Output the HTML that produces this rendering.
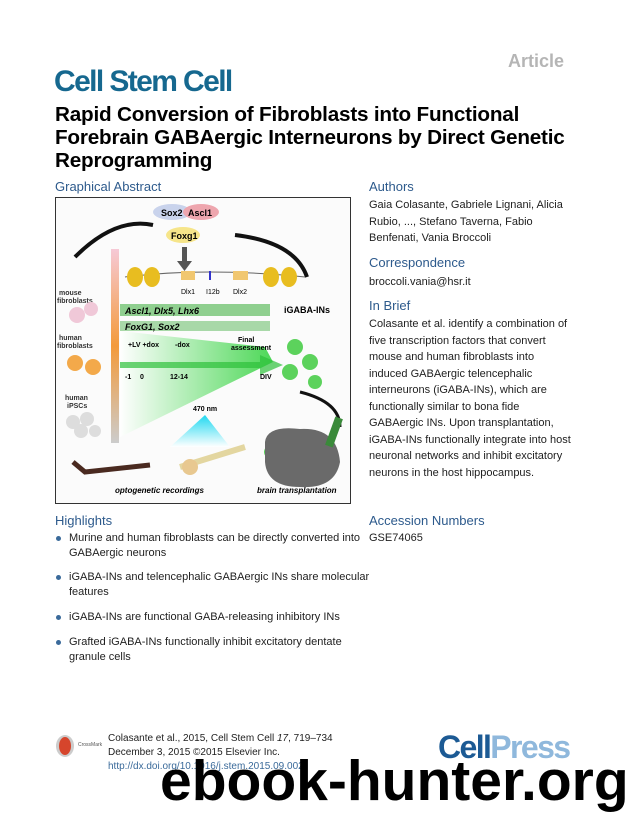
<!DOCTYPE html>
<html><head><meta charset="utf-8"><style>
*{margin:0;padding:0}
body{width:628px;height:816px;background:#fff;position:relative;overflow:hidden;font-family:"Liberation Sans",sans-serif;color:#1e1e1e}
.a{position:absolute;white-space:nowrap}
.h{color:#2d5a8c;font-size:13px}
.t{font-size:11px;line-height:16.5px}
.b{font-size:11px;line-height:14.5px}
.dot{position:absolute;width:5px;height:5px;border-radius:50%;background:#3a6a9a}
</style></head><body>
<div class="a" style="left:508px;top:51px;font-size:18px;font-weight:bold;color:#b5b5b5">Article</div>
<div class="a" style="left:54px;top:65px;font-size:30px;font-weight:bold;color:#16688f;letter-spacing:-1.6px">Cell Stem Cell</div>
<div class="a" style="left:55px;top:103px;font-size:20.7px;font-weight:bold;line-height:23px;color:#000;letter-spacing:-0.2px">Rapid Conversion of Fibroblasts into Functional<br>Forebrain GABAergic Interneurons by Direct Genetic<br>Reprogramming</div>
<div class="a h" style="left:55px;top:179px">Graphical Abstract</div>
<div class="a h" style="left:369px;top:179px">Authors</div>
<div class="a t" style="left:369px;top:197px">Gaia Colasante, Gabriele Lignani, Alicia<br>Rubio, ..., Stefano Taverna, Fabio<br>Benfenati, Vania Broccoli</div>
<div class="a h" style="left:369px;top:255px">Correspondence</div>
<div class="a t" style="left:369px;top:274px">broccoli.vania@hsr.it</div>
<div class="a h" style="left:369px;top:298px">In Brief</div>
<div class="a t" style="left:369px;top:316px">Colasante et al. identify a combination of<br>five transcription factors that convert<br>mouse and human fibroblasts into<br>induced GABAergic telencephalic<br>interneurons (iGABA-INs), which are<br>functionally similar to bona fide<br>GABAergic INs. Upon transplantation,<br>iGABA-INs functionally integrate into host<br>neuronal networks and inhibit excitatory<br>neurons in the host hippocampus.</div>
<div class="a h" style="left:369px;top:513px">Accession Numbers</div>
<div class="a t" style="left:369px;top:530px">GSE74065</div>
<div class="a h" style="left:55px;top:513px">Highlights</div>
<div class="dot" style="left:56px;top:536px"></div><div class="a b" style="left:69px;top:531px">Murine and human fibroblasts can be directly converted into<br>GABAergic neurons</div>
<div class="dot" style="left:56px;top:575px"></div><div class="a b" style="left:69px;top:570px">iGABA-INs and telencephalic GABAergic INs share molecular<br>features</div>
<div class="dot" style="left:56px;top:615px"></div><div class="a b" style="left:69px;top:610px">iGABA-INs are functional GABA-releasing inhibitory INs</div>
<div class="dot" style="left:56px;top:640px"></div><div class="a b" style="left:69px;top:635px">Grafted iGABA-INs functionally inhibit excitatory dentate<br>granule cells</div>

<svg class="a" style="left:55px;top:197px" width="296" height="307" viewBox="0 0 296 307" font-family="Liberation Sans" font-weight="bold">
<defs><linearGradient id="v" x1="0" y1="0" x2="0" y2="1"><stop offset="0" stop-color="#f6c9d6"/><stop offset=".5" stop-color="#f39a3a"/><stop offset="1" stop-color="#ccc"/></linearGradient>
<linearGradient id="g" x1="0" x2="1"><stop offset="0" stop-color="#fff"/><stop offset="1" stop-color="#2ed13a"/></linearGradient>
<linearGradient id="c" x1="0" y1="0" x2="0" y2="1"><stop offset="0" stop-color="#20d8f0"/><stop offset="1" stop-color="#fff"/></linearGradient></defs>
<rect x=".5" y=".5" width="295" height="306" fill="#fbfbfb" stroke="#333"/>
<ellipse cx="117" cy="15" rx="19" ry="8" fill="#c9d3ec"/><ellipse cx="146" cy="15" rx="18" ry="8" fill="#eea6ae"/>
<text x="106" y="19" font-size="9">Sox2</text><text x="133" y="19" font-size="9">Ascl1</text>
<ellipse cx="128" cy="38" rx="17" ry="8" fill="#f6e58a"/><text x="116" y="42" font-size="9">Foxg1</text>
<rect x="127" y="50" width="5" height="16" fill="#555"/><path d="M122 64h15l-7.5 10z" fill="#555"/>
<path d="M20 60 Q60 20 98 28" stroke="#111" stroke-width="4" fill="none"/><path d="M180 38 Q240 45 252 80" stroke="#111" stroke-width="4" fill="none"/>
<path d="M70 80 Q150 70 250 80" stroke="#666" fill="none"/>
<g fill="#e8bd20"><ellipse cx="80" cy="80" rx="8" ry="10"/><ellipse cx="97" cy="80" rx="8" ry="10"/><ellipse cx="216" cy="80" rx="8" ry="10"/><ellipse cx="234" cy="80" rx="8" ry="10"/></g>
<rect x="126" y="74" width="14" height="9" fill="#f1c770"/><rect x="178" y="74" width="15" height="9" fill="#f1c770"/><rect x="154" y="74" width="2" height="9" fill="#33c"/>
<text x="126" y="97" font-size="7" font-weight="normal">Dlx1</text><text x="151" y="97" font-size="7" font-weight="normal">I12b</text><text x="178" y="97" font-size="7" font-weight="normal">Dlx2</text>
<rect x="56" y="52" width="8" height="194" fill="url(#v)"/>
<rect x="65" y="107" width="150" height="12" fill="#8fcf8f"/><text x="70" y="117" font-size="9" font-style="italic">Ascl1, Dlx5, Lhx6</text>
<rect x="65" y="124" width="150" height="10" fill="#a8d8a8"/><text x="70" y="133" font-size="9" font-style="italic">FoxG1, Sox2</text>
<path d="M65 134 L210 150 L218 165 L65 240z" fill="url(#g)" opacity=".85"/>
<path d="M65 165 H205 V158 L228 168 L205 178 V171 H65z" fill="#2ec13a" opacity=".7"/>
<g font-size="7"><text x="73" y="150">+LV +dox</text><text x="120" y="150">-dox</text><text x="70" y="182">-1</text><text x="85" y="182">0</text><text x="115" y="182">12-14</text><text x="205" y="182">DIV</text><text x="183" y="145">Final</text><text x="176" y="153">assessment</text><text x="138" y="214">470 nm</text></g>
<text x="229" y="116" font-size="9">iGABA-INs</text>
<path d="M150 218 L175 250 L115 250z" fill="url(#c)"/>
<g fill="#5cd25c"><circle cx="240" cy="150" r="8"/><circle cx="255" cy="165" r="8"/><circle cx="235" cy="175" r="8"/><circle cx="260" cy="185" r="7"/><circle cx="215" cy="255" r="6"/></g>
<text font-size="7" fill="#333"><tspan x="4" y="98">mouse</tspan><tspan x="2" dy="8">fibroblasts</tspan></text>
<text font-size="7" fill="#333"><tspan x="4" y="143">human</tspan><tspan x="2" dy="8">fibroblasts</tspan></text>
<text font-size="7" fill="#333"><tspan x="10" y="203">human</tspan><tspan x="12" dy="8">iPSCs</tspan></text>
<g fill="#f0c8d8"><circle cx="22" cy="118" r="8"/><circle cx="36" cy="112" r="7"/></g>
<g fill="#f3a94a"><circle cx="20" cy="166" r="8"/><circle cx="38" cy="170" r="8"/></g>
<g fill="#ddd"><circle cx="18" cy="225" r="7"/><circle cx="32" cy="222" r="7"/><circle cx="26" cy="234" r="7"/><circle cx="40" cy="234" r="6"/></g>
<path d="M245 195 Q285 205 285 230" stroke="#111" stroke-width="3" fill="none"/>
<path d="M210 245 Q212 228 245 232 Q282 230 285 265 Q280 292 245 290 Q212 290 210 265z" fill="#6a6a6a"/>
<rect x="275" y="220" width="8" height="30" fill="#3a8a3a" transform="rotate(20 279 235)"/>
<path d="M18 265 L30 275 L95 268" stroke="#4a2a20" stroke-width="5" fill="none"/>
<path d="M125 270 L190 250" stroke="#e3d6a0" stroke-width="6"/><circle cx="135" cy="270" r="8" fill="#e8c890"/>
<text x="60" y="296" font-size="8" font-style="italic">optogenetic recordings</text>
<text x="202" y="296" font-size="8" font-style="italic">brain transplantation</text>
</svg>

<svg class="a" style="left:55px;top:733px" width="24" height="26"><ellipse cx="10" cy="13" rx="9" ry="11" fill="#ccc"/><ellipse cx="10" cy="13" rx="6" ry="9" fill="#d6452c"/></svg>
<div class="a" style="left:78px;top:742px;font-size:5px;color:#555">CrossMark</div>
<div class="a" style="left:108px;top:732px;font-size:10px;line-height:14px">Colasante et al., 2015, Cell Stem Cell <i>17</i>, 719–734<br>December 3, 2015 ©2015 Elsevier Inc.<br><span style="color:#3a6a9a">http://dx.doi.org/10.1016/j.stem.2015.09.002</span></div>
<div class="a" style="left:438px;top:729px;font-size:32px;line-height:36px;font-weight:bold;letter-spacing:-1.6px"><span style="color:#1c5a94">Cell</span><span style="color:#8fb8dc">Press</span></div>
<div class="a" style="left:160px;top:753px;font-size:57px;line-height:57px;font-weight:bold;color:#000">ebook-hunter.org</div>
</body></html>
